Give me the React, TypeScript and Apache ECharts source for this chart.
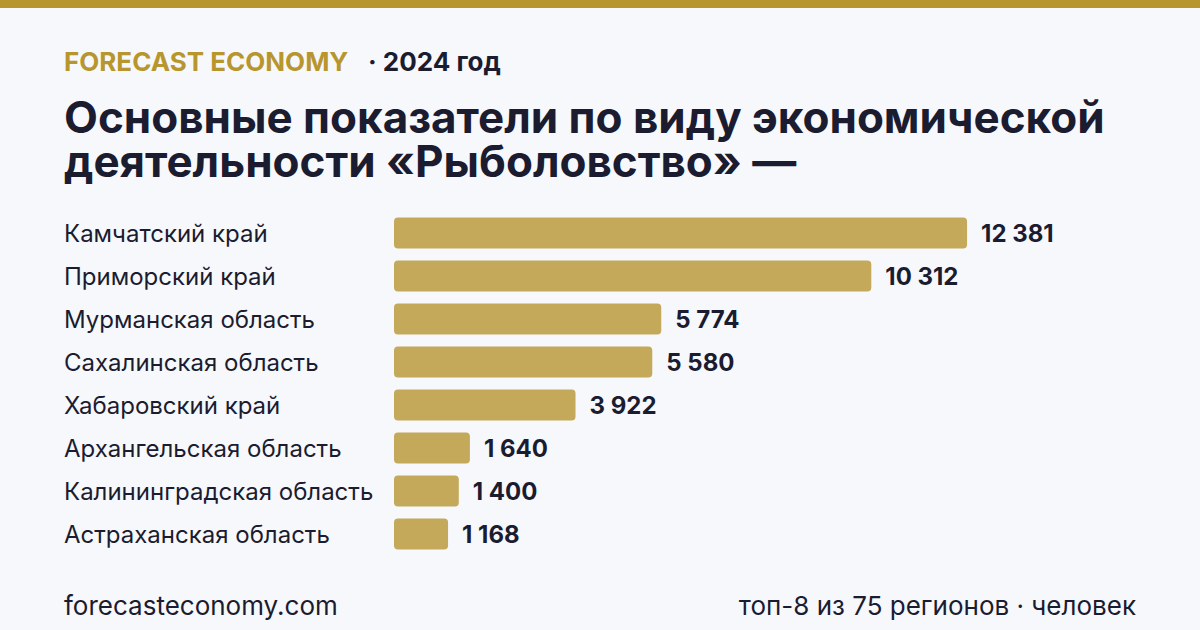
import React, { useEffect, useRef } from "react";
import * as echarts from "echarts";

const categories = [
  "Камчатский край",
  "Приморский край",
  "Мурманская область",
  "Сахалинская область",
  "Хабаровский край",
  "Архангельская область",
  "Калининградская область",
  "Астраханская область",
];
const values = [12381, 10312, 5774, 5580, 3922, 1640, 1400, 1168];

const brand = "FORECAST ECONOMY";
const yearText = "· 2024 год";
const titleLines = ["Основные показатели по виду экономической", "деятельности «Рыболовство» —"];
const footerLeft = "forecasteconomy.com";
const footerRight = "топ-8 из 75 регионов · человек";

const FONT = "Inter, 'Noto Sans', sans-serif";
const DARK = "#1b1c30";
const GOLD = "#b8962e";
const BAR = "#c4a95a";
const BG = "#f7f8fc";

function fmt(v: number): string {
  return String(v).replace(/\B(?=(\d{3})+(?!\d))/g, " ");
}

export default function App() {
  const ref = useRef<HTMLDivElement>(null);
  useEffect(() => {
    document.body.style.margin = "0";
    const chart = echarts.init(ref.current!, null, { renderer: "svg" });
    chart.setOption({
      animation: false,
      backgroundColor: BG,
      grid: { left: 394, right: 158, top: 211.5, bottom: 630 - 555.5, containLabel: false },
      xAxis: {
        type: "value",
        min: 0,
        max: 14000,
        show: false,
      },
      yAxis: {
        type: "category",
        data: categories,
        inverse: true,
        axisLine: { show: false },
        axisTick: { show: false },
        splitLine: { show: false },
        axisLabel: {
          show: true,
          align: "left",
          margin: 330,
          color: DARK,
          fontFamily: FONT,
          fontSize: 24,
          padding: [3, 0, 0, 0],
        },
      },
      series: [
        {
          type: "bar",
          data: values,
          barWidth: 31,
          itemStyle: { color: BAR, borderRadius: 4 },
          label: {
            show: true,
            position: "right",
            distance: 14,
            color: DARK,
            fontFamily: FONT,
            fontWeight: "bold",
            fontSize: 24,
            padding: [3, 0, 0, 0],
            formatter: (p: any) => fmt(p.value),
          },
        },
      ],
      graphic: [
        { type: "rect", left: 0, top: 0, shape: { width: 1200, height: 8 }, style: { fill: GOLD } },
        {
          type: "text",
          x: 64,
          y: 61,
          style: { text: brand, fill: GOLD, font: `bold 26px ${FONT}`, textVerticalAlign: "middle" },
        },
        {
          type: "text",
          x: 368,
          y: 61,
          style: { text: yearText, fill: DARK, font: `bold 26px ${FONT}`, textVerticalAlign: "middle" },
        },
        {
          type: "text",
          x: 64,
          y: 117,
          style: { text: titleLines[0], fill: DARK, font: `bold 44px ${FONT}`, textVerticalAlign: "middle" },
        },
        {
          type: "text",
          x: 64,
          y: 161,
          style: { text: titleLines[1], fill: DARK, font: `bold 44px ${FONT}`, textVerticalAlign: "middle" },
        },
        {
          type: "text",
          x: 64,
          y: 605,
          style: { text: footerLeft, fill: DARK, font: `26px ${FONT}`, textVerticalAlign: "middle" },
        },
        {
          type: "text",
          x: 1136,
          y: 605,
          style: { text: footerRight, fill: DARK, font: `26px ${FONT}`, textAlign: "right", textVerticalAlign: "middle" },
        },
      ],
    });
    return () => chart.dispose();
  }, []);
  return <div ref={ref} style={{ width: 1200, height: 630, position: "fixed", left: 0, top: 0 }} />;
}
